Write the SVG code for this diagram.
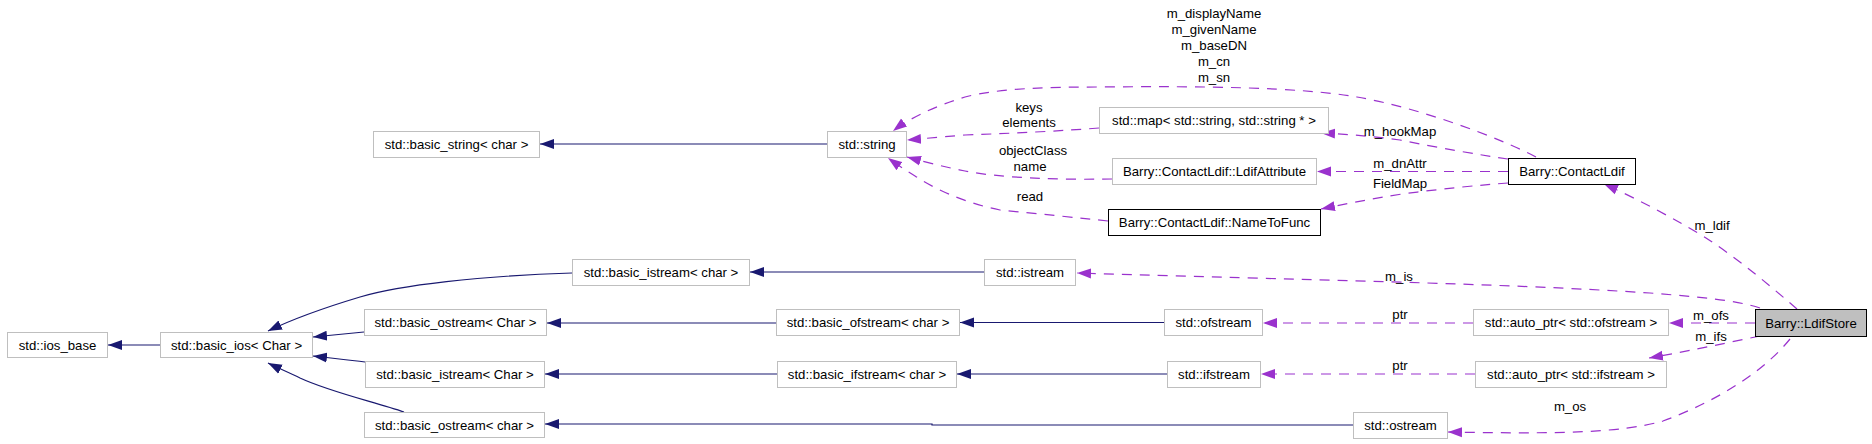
<svg xmlns="http://www.w3.org/2000/svg" width="1872" height="444" viewBox="0 0 1872 444">
<style>
text{font-family:"Liberation Sans",Arial,Helvetica,sans-serif;font-size:13.2px;fill:#000;text-anchor:middle}
.n rect{fill:#fff;stroke:#bfbfbf;stroke-width:1}
.n.b rect{stroke:#000}
.n.sel rect{fill:#bfbfbf;stroke:#000}
.inh{fill:none;stroke:#191970;stroke-width:1.2;marker-end:url(#ab)}
.use{fill:none;stroke:#9a32cd;stroke-width:1.2;stroke-dasharray:10,8;marker-end:url(#ap)}
</style>
<defs>
<marker id="ab" markerUnits="userSpaceOnUse" markerWidth="14" markerHeight="11" refX="14" refY="5.5" orient="auto"><path d="M0,0.5 L14,5.5 L0,10.5 z" fill="#191970"/></marker>
<marker id="ap" markerUnits="userSpaceOnUse" markerWidth="14" markerHeight="11" refX="14" refY="5.5" orient="auto"><path d="M0,0.5 L14,5.5 L0,10.5 z" fill="#9a32cd"/></marker>
</defs>
<rect width="1872" height="444" fill="#fff"/>
<g id="edges">
<path class="inh" d="M160,345 L108,345"/>
<path class="inh" d="M364,332 L313,337"/>
<path class="inh" d="M365,362 C350,360 330,358 313,356"/>
<path class="inh" d="M404,412 C375,402 330,392 300,378 C290,373 278,368 268,363"/>
<path class="inh" d="M572,273 C480,276 400,285 360,297 C330,306 295,318 268,331"/>
<path class="inh" d="M776,323 L547,323"/>
<path class="inh" d="M777,374 L545,374"/>
<path class="inh" d="M1353,425 L932,425 L932,424 L545,424"/>
<path class="inh" d="M984,272 L750,272"/>
<path class="inh" d="M1164,322.5 L960,322.5"/>
<path class="inh" d="M1167,374 L957,374"/>
<path class="inh" d="M827,144 L540,144"/>
<path class="use" d="M1473,323 L1263,323"/>
<path class="use" d="M1475,374 L1261,374"/>
<path class="use" d="M1755,323 L1669,323"/>
<path class="use" d="M1760,336 C1730,342 1700,349 1649,358"/>
<path class="use" d="M1790,339 C1765,370 1720,400 1663,421 C1620,433 1560,434 1448,432"/>
<path class="use" d="M1760,308 C1735,300 1700,297 1650,293 C1500,283 1300,280 1077,273"/>
<path class="use" d="M1797,309 C1775,290 1740,260 1706,238 C1680,222 1640,200 1604,184"/>
<path class="use" d="M1536,157 C1500,138 1420,108 1357,97 C1300,87 1200,86 1100,87 C1050,87 1000,88 965,97 C935,106 910,118 893,131"/>
<path class="use" d="M1099,128 C1060,131 1020,133 965,135 C940,137 920,139 907,140"/>
<path class="use" d="M1112,179 C1060,180 1000,178 965,171 C945,167 925,162 907,157"/>
<path class="use" d="M1108,221 C1080,218 1040,214 1000,210 C960,202 930,186 915,176 C905,170 895,163 888,158"/>
<path class="use" d="M1508,159 C1480,155 1440,148 1400,140 C1370,136 1345,134 1321,133"/>
<path class="use" d="M1508,171.5 L1317,171.5"/>
<path class="use" d="M1508,183 C1480,185 1440,189 1402,194 C1370,199 1345,204 1321,209"/>
<text x="1400" y="319">ptr</text>
<text x="1400" y="370">ptr</text>
<text x="1711" y="320">m_ofs</text>
<text x="1711" y="341">m_ifs</text>
<text x="1570" y="411">m_os</text>
<text x="1399" y="281">m_is</text>
<text x="1712" y="229.5">m_ldif</text>
<text x="1214" y="18">m_displayName</text>
<text x="1214" y="34">m_givenName</text>
<text x="1214" y="50">m_baseDN</text>
<text x="1214" y="66">m_cn</text>
<text x="1214" y="82">m_sn</text>
<text x="1029" y="112">keys</text>
<text x="1029" y="127">elements</text>
<text x="1033" y="155">objectClass</text>
<text x="1030" y="171">name</text>
<text x="1030" y="200.5">read</text>
<text x="1400" y="135.5">m_hookMap</text>
<text x="1400" y="168">m_dnAttr</text>
<text x="1400" y="188">FieldMap</text>
</g>
<g id="n_ios_base" class="n"><rect x="7.5" y="332.5" width="100" height="25"/><text x="57.5" y="349.5">std::ios_base</text></g>
<g id="n_basic_ios" class="n"><rect x="160.5" y="332.5" width="152" height="25"/><text x="236.5" y="349.5">std::basic_ios&lt; Char &gt;</text></g>
<g id="n_basic_ostream_C" class="n"><rect x="364.5" y="309.5" width="182" height="26"/><text x="455.5" y="327">std::basic_ostream&lt; Char &gt;</text></g>
<g id="n_basic_istream_C" class="n"><rect x="365.5" y="361.5" width="179" height="26"/><text x="455" y="379">std::basic_istream&lt; Char &gt;</text></g>
<g id="n_basic_ostream_c" class="n"><rect x="364.5" y="412.5" width="180" height="25"/><text x="454.5" y="430">std::basic_ostream&lt; char &gt;</text></g>
<g id="n_basic_istream_c" class="n"><rect x="572.5" y="259.5" width="177" height="26"/><text x="661" y="277">std::basic_istream&lt; char &gt;</text></g>
<g id="n_basic_ofstream" class="n"><rect x="776.5" y="309.5" width="183" height="26"/><text x="868" y="327">std::basic_ofstream&lt; char &gt;</text></g>
<g id="n_basic_ifstream" class="n"><rect x="777.5" y="361.5" width="179" height="26"/><text x="867" y="379">std::basic_ifstream&lt; char &gt;</text></g>
<g id="n_istream" class="n"><rect x="984.5" y="259.5" width="91" height="26"/><text x="1030" y="277">std::istream</text></g>
<g id="n_ofstream" class="n"><rect x="1164.5" y="309.5" width="98" height="26"/><text x="1213.5" y="327">std::ofstream</text></g>
<g id="n_ifstream" class="n"><rect x="1167.5" y="361.5" width="93" height="26"/><text x="1214" y="379">std::ifstream</text></g>
<g id="n_ostream" class="n"><rect x="1353.5" y="412.5" width="94" height="26"/><text x="1400.5" y="430">std::ostream</text></g>
<g id="n_auto_ofs" class="n"><rect x="1473.5" y="309.5" width="195" height="26"/><text x="1571" y="327">std::auto_ptr&lt; std::ofstream &gt;</text></g>
<g id="n_auto_ifs" class="n"><rect x="1475.5" y="361.5" width="191" height="26"/><text x="1571" y="379">std::auto_ptr&lt; std::ifstream &gt;</text></g>
<g id="n_LdifStore" class="n sel"><rect x="1755.5" y="309.5" width="111" height="27"/><text x="1811" y="327.5">Barry::LdifStore</text></g>
<g id="n_basic_string" class="n"><rect x="373.5" y="131.5" width="166" height="26"/><text x="456.5" y="149">std::basic_string&lt; char &gt;</text></g>
<g id="n_string" class="n"><rect x="827.5" y="131.5" width="79" height="26"/><text x="867" y="149">std::string</text></g>
<g id="n_map" class="n"><rect x="1099.5" y="107.5" width="229" height="26"/><text x="1214" y="125">std::map&lt; std::string, std::string * &gt;</text></g>
<g id="n_LdifAttribute" class="n"><rect x="1112.5" y="158.5" width="204" height="26"/><text x="1214.5" y="176">Barry::ContactLdif::LdifAttribute</text></g>
<g id="n_NameToFunc" class="n b"><rect x="1108.5" y="209.5" width="212" height="26"/><text x="1214.5" y="227">Barry::ContactLdif::NameToFunc</text></g>
<g id="n_ContactLdif" class="n b"><rect x="1508.5" y="158.5" width="127" height="26"/><text x="1572" y="176">Barry::ContactLdif</text></g>
</svg>
